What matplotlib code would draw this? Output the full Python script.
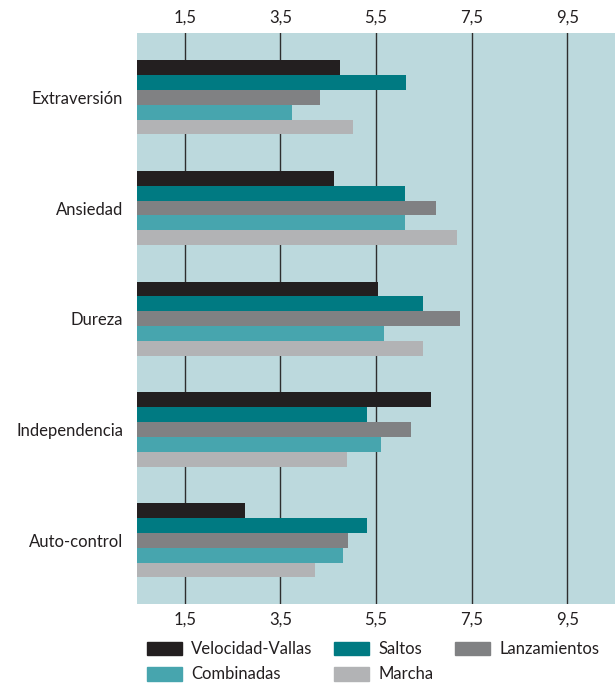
import numpy as np
import matplotlib
matplotlib.use("Agg")
import matplotlib.pyplot as plt
from matplotlib.patches import Patch

plt.rcParams['font.family'] = ['Lato', 'DejaVu Sans']

# data
categorias = ["Extraversión", "Ansiedad", "Dureza", "Independencia", "Auto-control"]
series = ["Velocidad-Vallas", "Saltos", "Lanzamientos", "Combinadas", "Marcha"]
velocidad_vallas = [4.75, 4.63, 5.55, 6.64, 2.76]
saltos = [6.13, 6.11, 6.49, 5.32, 5.32]
lanzamientos = [4.33, 6.76, 7.26, 6.24, 4.92]
combinadas = [3.75, 6.11, 5.67, 5.61, 4.81]
marcha = [5.02, 7.20, 6.49, 4.90, 4.23]
ticks = [1.5, 3.5, 5.5, 7.5, 9.5]

valores = [velocidad_vallas, saltos, lanzamientos, combinadas, marcha]
colores = ["#231F20", "#007A82", "#808183", "#47A5AE", "#B2B3B5"]
texto = "#231F20"

fig = plt.figure(figsize=(6.15, 6.91), dpi=100)
ax = fig.add_axes([0.2228, 0.1252, 0.7772, 0.8270])
ax.set_facecolor("#BCD9DD")

y = np.arange(len(categorias))
h = 0.134
for i, (vals, col) in enumerate(zip(valores, colores)):
    ax.barh(y + (i - 2) * h, vals, height=h, color=col, zorder=3, label=series[i])

for t in ticks:
    ax.axvline(t, color="#2e2e2e", lw=1.0, zorder=2)

ax.set_xlim(0.5, 10.5)
ax.set_ylim(4.58, -0.58)
ax.set_xticks(ticks)
ax.set_xticklabels([str(t).replace(".", ",") for t in ticks])
ax.set_yticks(y)
ax.set_yticklabels(categorias)
ax.tick_params(axis="x", top=True, labeltop=True, bottom=True, labelbottom=True,
               length=0, pad=5, labelsize=12, labelcolor=texto)
ax.tick_params(axis="y", length=0, pad=10, labelsize=12, labelcolor=texto)
for s in ax.spines.values():
    s.set_visible(False)

# legend is laid out row by row in the picture
orden = [0, 3, 1, 4, 2]
handles = [Patch(color=colores[i]) for i in orden]
labels = [series[i] for i in orden]
fig.legend(handles, labels, ncol=3, loc="upper left", bbox_to_anchor=(0.239, 0.072),
           frameon=False, fontsize=12, handlelength=2.1, handleheight=0.9,
           handletextpad=0.55, columnspacing=1.3, labelspacing=0.55,
           borderpad=0, borderaxespad=0, labelcolor=texto)

fig.savefig("out.png", dpi=100)
